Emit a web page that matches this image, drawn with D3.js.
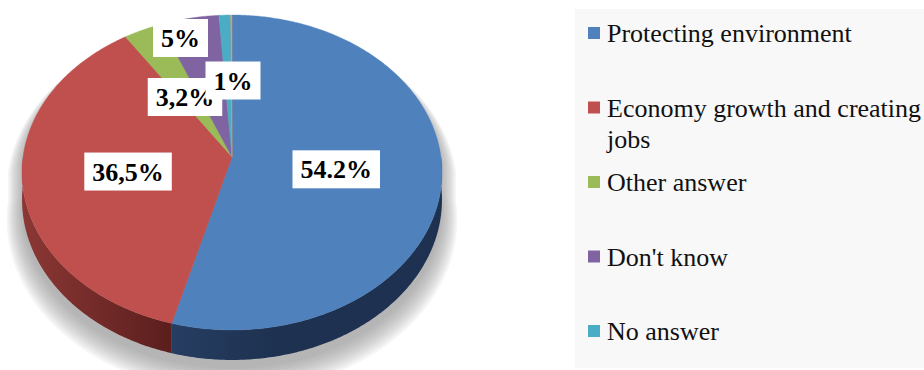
<!DOCTYPE html>
<html>
<head>
<meta charset="utf-8">
<script src="https://cdn.jsdelivr.net/npm/d3@7/dist/d3.min.js"></script>
</head>
<body style="margin:0;background:#ffffff">
<svg id="chart" width="924" height="370" style="display:block"></svg>
<script>
// Survey answers, share of respondents (%)
const categories = ["Protecting environment", "Economy growth and creating jobs", "Other answer", "Don't know", "No answer"];
const values = [54.2, 36.5, 3.2, 5, 1, 0.1];
const valueLabels = ["54.2%", "36,5%", "3,2%", "5%", "1%"];
const topColors = ["#4f81bd", "#c0504d", "#9bbb59", "#8064a2", "#4bacc6", "#f79646"];
const sideDark = ["#1e3150", "#5a1e1d", "#5d7232", "#4a3a60", "#2a6a7a", "#a0602a"];
const sideLight = ["#263e62", "#8c3835", "#7d9a45", "#66508a", "#3a8ca0", "#c0783a"];

const svg = d3.select("#chart");
const defs = svg.append("defs");

// Perspective projection of the tilted disc
const cx = 232, cy = 157;   // apex of the slices
const A = 2125, B = 1586, D = 10.17, T = 275;
function P(a, r, drop) {
  const u = r * Math.sin(a), v = r * Math.cos(a), den = D + v;
  return [cx + A * u / den, cy - B * v / den + drop * T / den];
}
function arcPts(a0, a1, r, drop) {
  const n = Math.max(2, Math.ceil(Math.abs(a1 - a0) / 0.01));
  return d3.range(n + 1).map(k => P(a0 + (a1 - a0) * k / n, r, drop));
}

const color = d3.scaleOrdinal().domain(d3.range(values.length)).range(topColors);
const arcs = d3.pie().sort(null).value(d => d)(values);
const line = d3.line();

// soft shadow: stacked translucent silhouettes, widening outward
const shadow = svg.append("g").attr("fill", "#808080");
d3.range(10).forEach(k => {
  const r = 1 + 0.008 * k;
  const dy = 6 + k;
  const outline = arcPts(Math.PI / 2, 3 * Math.PI / 2, r, 1.1)
    .concat(arcPts(3 * Math.PI / 2, 5 * Math.PI / 2, r, 0))
    .map(p => [p[0], p[1] + dy]);
  shadow.append("path").attr("d", line(outline) + "Z").attr("opacity", 0.08);
});

// side walls (front half only)
arcs.forEach((d, i) => {
  const g = defs.append("linearGradient").attr("id", "wall" + i)
    .attr("gradientUnits", "userSpaceOnUse")
    .attr("x1", 20).attr("y1", 0).attr("x2", 444).attr("y2", 0);
  if (i === 1) {
    g.append("stop").attr("offset", "0").attr("stop-color", sideLight[i]);
    g.append("stop").attr("offset", "0.36").attr("stop-color", sideDark[i]);
  } else if (i === 0) {
    g.append("stop").attr("offset", "0.36").attr("stop-color", sideLight[i]);
    g.append("stop").attr("offset", "0.6").attr("stop-color", sideDark[i]);
    g.append("stop").attr("offset", "1").attr("stop-color", sideDark[i]);
  } else {
    g.append("stop").attr("offset", "0").attr("stop-color", sideDark[i]);
    g.append("stop").attr("offset", "1").attr("stop-color", sideLight[i]);
  }
});
const walls = svg.append("g");
arcs.forEach((d, i) => {
  const a0 = Math.max(d.startAngle, Math.PI / 2), a1 = Math.min(d.endAngle, 3 * Math.PI / 2);
  if (a1 <= a0) return;
  const pts = arcPts(a0, a1, 1, 0).concat(arcPts(a1, a0, 1, 1));
  walls.append("path").attr("d", line(pts) + "Z").attr("fill", `url(#wall${i})`);
});

// top faces
const faces = svg.append("g");
arcs.forEach((d, i) => {
  const pts = [P(0, 0, 0)].concat(arcPts(d.startAngle, d.endAngle, 1, 0));
  faces.append("path").attr("d", line(pts) + "Z")
    .attr("fill", color(i)).attr("stroke", color(i)).attr("stroke-width", 0.4);
});

// data labels in white boxes
const calloutPos = { 2: [185, 97], 3: [180.5, 38], 4: [233, 80.5] };
function labelCenter(i) {
  if (calloutPos[i]) return calloutPos[i];
  const d = arcs[i];
  const p = P((d.startAngle + d.endAngle) / 2, 0.5, 0);
  return [p[0], p[1] + 2];
}
const labelOrder = [0, 1, 3, 2, 4];
const labels = svg.append("g");
labelOrder.forEach(i => {
  const [x, y] = labelCenter(i);
  const g = labels.append("g");
  const rect = g.append("rect").attr("fill", "#ffffff");
  const t = g.append("text").attr("x", x).attr("y", y + 9)
    .attr("text-anchor", "middle").attr("fill", "#000")
    .attr("font-family", "Liberation Serif")
    .style("font-family", '"Liberation Serif"')
    .style("font-weight", "bold").style("font-size", "26px")
    .text(valueLabels[i]);
  const w = t.node().getComputedTextLength() + 16;
  rect.attr("x", x - w / 2).attr("y", y - 19).attr("width", w).attr("height", 38);
});

// legend
const legend = svg.append("g");
legend.append("rect").attr("x", 575).attr("y", 9).attr("width", 360).attr("height", 359)
  .attr("fill", "#f8f8f8");
const rowY = d3.scalePoint().domain(d3.range(categories.length)).range([42, 340]);
categories.forEach((c, i) => {
  const y = rowY(i);
  legend.append("rect").attr("x", 588).attr("y", y - 15).attr("width", 12).attr("height", 12)
    .attr("fill", color(i));
  // long entries wrap onto a second line
  const words = c.split(" ");
  const lines = [[]];
  const probe = legend.append("text").attr("font-family", "Liberation Serif")
    .style("font-family", '"Liberation Serif"').style("font-size", "26px");
  words.forEach(wd => {
    const cur = lines[lines.length - 1];
    probe.text(cur.concat(wd).join(" "));
    if (cur.length && probe.node().getComputedTextLength() > 330) lines.push([wd]);
    else cur.push(wd);
  });
  probe.remove();
  lines.forEach((ws, j) => {
    legend.append("text").attr("x", 607).attr("y", y + j * 31)
      .attr("font-family", "Liberation Serif")
      .style("font-family", '"Liberation Serif"').style("font-size", "26px")
      .attr("fill", "#111").text(ws.join(" "));
  });
});
</script>
</body>
</html>
